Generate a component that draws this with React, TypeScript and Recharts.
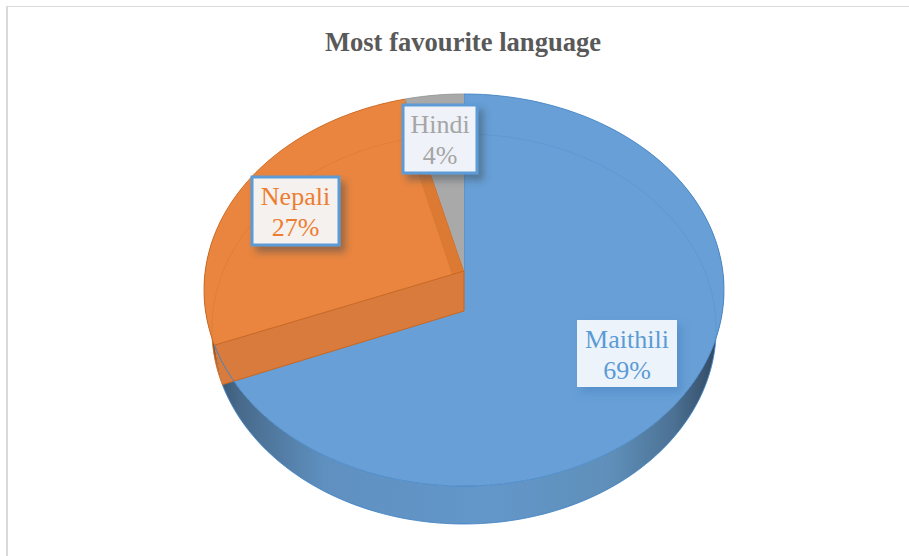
import React from "react";
import { PieChart, Pie } from "recharts";

const languages = ["Maithili", "Nepali", "Hindi"];
const shares = [69, 27, 4];

const WIDTH = 909;
const HEIGHT = 556;
const SERIF = '"Liberation Serif", "Times New Roman", serif';

const colors: Record<string, { top: string; edge: string; text: string; box: string; wall: string }> = {
  Maithili: { top: "#679FD6", edge: "#4485C6", text: "#5B9BD5", box: "#EDF3FA", wall: "url(#wallBlue)" },
  Nepali: { top: "#E9853F", edge: "#C9661F", text: "#ED7D31", box: "#F5F1EE", wall: "url(#wallOrange)" },
  Hindi: { top: "#A9A9A9", edge: "#9A9A9A", text: "#A5A5A5", box: "#EFF3F9", wall: "#8F8F8F" },
};

// where each callout box sits on the pie
const calloutBoxes: Record<string, { x: number; y: number; w: number; h: number }> = {
  Maithili: { x: 577, y: 320, w: 100, h: 67 },
  Nepali: { x: 252, y: 177, w: 87, h: 68 },
  Hindi: { x: 403, y: 105, w: 74, h: 68 },
};

const tableData = languages.map((name, i) => ({
  name,
  value: shares[i],
  fill: colors[name].top,
}));

// perspective of the disc: the near half of the rim looks larger than the far half
const RIMS = {
  top: { spread: 194.2, persp: -0.0969, dy: 0, widthK: 1 },
  bottom: { spread: 193.3, persp: -0.0923, dy: 40, widthK: 0.97 },
};

function project(cx: number, cy: number, r: number, deg: number, rim: keyof typeof RIMS) {
  const { spread, persp, dy, widthK } = RIMS[rim];
  const rad = (deg * Math.PI) / 180;
  const u = Math.cos(rad);
  const v = -Math.sin(rad);
  const d = 1 + persp * v;
  return [cx + (r * widthK * u) / d, cy + dy + (spread * v) / d];
}

function rimPoints(cx: number, cy: number, r: number, from: number, to: number, rim: keyof typeof RIMS) {
  const steps = Math.max(2, Math.ceil(Math.abs(to - from) / 1.5));
  const pts: number[][] = [];
  for (let i = 0; i <= steps; i++) {
    pts.push(project(cx, cy, r, from + ((to - from) * i) / steps, rim));
  }
  return pts;
}

const toPath = (pts: number[][]) =>
  pts.map((p, i) => `${i ? "L" : "M"}${p[0].toFixed(2)} ${p[1].toFixed(2)}`).join(" ");

function Slice3D(props: any) {
  const { cx, cy, outerRadius: r, startAngle, endAngle, name } = props;
  const c = colors[name];
  const topRim = rimPoints(cx, cy, r, startAngle, endAngle, "top");
  const bottomRim = rimPoints(cx, cy, r, startAngle, endAngle, "bottom");
  const apexTop = [cx, cy];
  const apexBottom = [cx, cy + RIMS.bottom.dy];
  const nearCut = topRim[0];
  const farCut = topRim[topRim.length - 1];
  const nearLow = bottomRim[0];
  const farLow = bottomRim[bottomRim.length - 1];

  return (
    <g>
      {/* outer wall, mostly hidden under the top face */}
      <path d={toPath([...topRim, ...[...bottomRim].reverse()]) + " Z"} fill={c.wall} stroke="none" />
      <path d={toPath(bottomRim)} fill="none" stroke={c.edge} strokeWidth={1} opacity={0.8} />
      {/* top face */}
      <path d={toPath([apexTop, ...topRim]) + " Z"} fill={c.top} stroke="none" />
      <path d={toPath(topRim)} fill="none" stroke={c.edge} strokeWidth={1} opacity={0.8} />
      {/* far rim showing through the translucent disc */}
      <path d={toPath(bottomRim)} fill="none" stroke={c.edge} strokeWidth={0.8} opacity={0.3} />
      {/* cut faces, only the orange slice shows them */}
      {name === "Nepali" && (
        <g>
          <path d={toPath([apexTop, farCut, farLow, apexBottom]) + " Z"} fill="#DC7A33" />
          <path d={toPath([apexTop, nearCut, nearLow, apexBottom]) + " Z"} fill="#D87B3C" />
          <path d={toPath([farCut, apexTop, nearCut])} fill="none" stroke={c.edge} strokeWidth={1} />
          <path d={toPath([apexTop, apexBottom, nearLow])} fill="none" stroke={c.edge} strokeWidth={1} />
          {/* the blue rim stays visible through the front cut face */}
          <path
            d={toPath(rimPoints(cx, cy, r, startAngle + 12, startAngle, "top"))}
            fill="none"
            stroke={colors.Maithili.edge}
            strokeWidth={1}
          />
        </g>
      )}
      {name === "Maithili" && (
        <path d={toPath([nearCut, apexTop])} fill="none" stroke={c.edge} strokeWidth={1} opacity={0.7} />
      )}
    </g>
  );
}

function Callout(props: any) {
  const { name, percent } = props;
  const box = calloutBoxes[name];
  const c = colors[name];
  const mid = box.x + box.w / 2;
  return (
    <g>
      <rect
        x={box.x}
        y={box.y}
        width={box.w}
        height={box.h}
        fill={c.box}
        stroke="#5B9BD5"
        strokeWidth={name === "Maithili" ? 0 : 3}
        filter={name === "Maithili" ? "url(#calloutShadowBlue)" : "url(#calloutShadow)"}
      />
      <text x={mid} y={box.y + 28} textAnchor="middle" fontFamily={SERIF} fontSize={26} fill={c.text}>
        {name}
      </text>
      <text x={mid} y={box.y + 59} textAnchor="middle" fontFamily={SERIF} fontSize={26} fill={c.text}>
        {Math.round(percent * 100)}%
      </text>
    </g>
  );
}

export default function App() {
  return (
    <div style={{ position: "absolute", left: 0, top: 0, width: WIDTH, height: HEIGHT, background: "#fff" }}>
      <div
        style={{
          position: "absolute",
          left: 6,
          top: 6,
          right: 0,
          bottom: 0,
          borderLeft: "2px solid #DADADA",
          borderTop: "1px solid #DADADA",
        }}
      />
      <div
        style={{
          position: "absolute",
          left: 0,
          top: 26,
          width: 926,
          textAlign: "center",
          fontFamily: SERIF,
          fontWeight: 700,
          fontSize: 26.6,
          lineHeight: "32px",
          color: "#595959",
        }}
      >
        Most favourite language
      </div>
      <PieChart width={WIDTH} height={HEIGHT} margin={{ top: 0, right: 0, bottom: 0, left: 0 }} style={{ position: "absolute", left: 0, top: 0 }}>
        <defs>
          <linearGradient id="wallBlue" gradientUnits="userSpaceOnUse" x1={212} y1={0} x2={724} y2={0}>
            <stop offset="0" stopColor="#33506C" />
            <stop offset="0.05" stopColor="#47698A" />
            <stop offset="0.22" stopColor="#5F90C0" />
            <stop offset="0.55" stopColor="#6397CA" />
            <stop offset="0.78" stopColor="#5F8FB9" />
            <stop offset="0.9" stopColor="#4C7295" />
            <stop offset="0.97" stopColor="#37516C" />
            <stop offset="1" stopColor="#2A3F55" />
          </linearGradient>
          <linearGradient id="wallOrange" gradientUnits="userSpaceOnUse" x1={211} y1={0} x2={224} y2={0}>
            <stop offset="0" stopColor="#3E2A14" />
            <stop offset="0.4" stopColor="#B8692B" />
            <stop offset="1" stopColor="#E08238" />
          </linearGradient>
          <filter id="calloutShadow" x="-20%" y="-20%" width="150%" height="150%">
            <feDropShadow dx={5} dy={6} stdDeviation={3.5} floodColor="#3C4650" floodOpacity={0.45} />
          </filter>
          <filter id="calloutShadowBlue" x="-20%" y="-20%" width="150%" height="150%">
            <feDropShadow dx={4} dy={5} stdDeviation={4} floodColor="#3F7FC0" floodOpacity={0.5} />
          </filter>
        </defs>
        <Pie
          data={tableData}
          dataKey="value"
          nameKey="name"
          cx={464}
          cy={271}
          innerRadius={0}
          outerRadius={258.8}
          startAngle={90}
          endAngle={-270}
          stroke="none"
          shape={Slice3D}
          label={Callout}
          labelLine={false}
          isAnimationActive={false}
        />
      </PieChart>
    </div>
  );
}
